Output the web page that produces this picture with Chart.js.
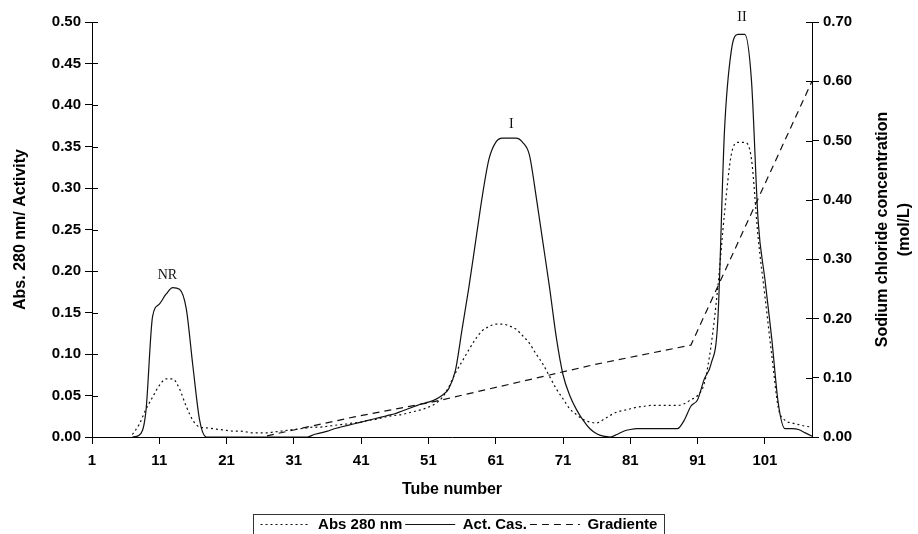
<!DOCTYPE html>
<html>
<head>
<meta charset="utf-8">
<script src="https://cdn.jsdelivr.net/npm/chart.js@4.4.0/dist/chart.umd.min.js"></script>
<style>
  html, body { margin: 0; padding: 0; background: #fff; }
</style>
</head>
<body>
<canvas id="myChart" width="918" height="534"></canvas>
<script>
// tube numbers for the two measured series (tubes 7..108)
const tubes = Array.from({ length: 102 }, (_, i) => i + 7);

const absValues = [
  0.003, 0.015, 0.033, 0.048, 0.062, 0.070, 0.070, 0.058, 0.037, 0.020,   // 7-16
  0.012, 0.011, 0.010, 0.009, 0.008, 0.007, 0.007, 0.006, 0.005, 0.005,   // 17-26
  0.005, 0.006, 0.007, 0.008, 0.009, 0.010, 0.011, 0.012, 0.012, 0.013,   // 27-36
  0.014, 0.015, 0.016, 0.017, 0.018, 0.020, 0.021, 0.023, 0.025, 0.026,   // 37-46
  0.027, 0.029, 0.031, 0.033, 0.036, 0.040, 0.047, 0.060, 0.077, 0.091,   // 47-56
  0.105, 0.118, 0.128, 0.133, 0.136, 0.136, 0.134, 0.130, 0.122, 0.113,   // 57-66
  0.100, 0.088, 0.073, 0.058, 0.046, 0.034, 0.027, 0.021, 0.018, 0.017,   // 67-76
  0.021, 0.026, 0.030, 0.032, 0.034, 0.036, 0.037, 0.038, 0.038, 0.038,   // 77-86
  0.038, 0.038, 0.040, 0.045, 0.050, 0.065, 0.110, 0.180, 0.270, 0.340,   // 87-96
  0.355, 0.355, 0.335, 0.240, 0.170, 0.100, 0.035, 0.020, 0.017, 0.015,   // 97-106
  0.013, 0.012                                                            // 107-108
];

const actValues = [
  0.000, 0.002, 0.030, 0.145, 0.160, 0.172, 0.180, 0.178, 0.155, 0.085,   // 7-16
  0.020, 0.000, 0.000, 0.000, 0.000, 0.000, 0.000, 0.000, 0.000, 0.000,   // 17-26
  0.000, 0.000, 0.000, 0.000, 0.000, 0.000, 0.000, 0.003, 0.005, 0.007,   // 27-36
  0.010, 0.012, 0.014, 0.016, 0.018, 0.020, 0.022, 0.024, 0.026, 0.028,   // 37-46
  0.031, 0.034, 0.037, 0.040, 0.042, 0.045, 0.050, 0.058, 0.080, 0.130,   // 47-56
  0.180, 0.235, 0.290, 0.335, 0.355, 0.360, 0.360, 0.360, 0.355, 0.340,   // 57-66
  0.290, 0.235, 0.180, 0.120, 0.075, 0.050, 0.033, 0.020, 0.010, 0.004,   // 67-76
  0.001, 0.000, 0.003, 0.007, 0.009, 0.010, 0.010, 0.010, 0.010, 0.010,   // 77-86
  0.010, 0.010, 0.020, 0.037, 0.045, 0.070, 0.088, 0.140, 0.370, 0.465,   // 87-96
  0.485, 0.485, 0.430, 0.260, 0.190, 0.120, 0.040, 0.010, 0.010, 0.009,   // 97-106
  0.005, 0.001                                                            // 107-108
];

// NaCl gradient (right axis), straight segments
const gradTubes  = [27, 40, 52, 76, 90, 108];
const gradValues = [0.002, 0.034, 0.060, 0.123, 0.155, 0.600];

const xTickValues = [1, 11, 21, 31, 41, 51, 61, 71, 81, 91, 101];

const peakLabels = ['NR', 'I', 'II'];
const peakTubes  = [12.2, 63.3, 97.6];
const peakLevels = [0.195, 0.377, 0.506];

const seriesNames = ['Abs 280 nm', 'Act. Cas.', 'Gradiente'];

const SANS = '"Liberation Sans", Arial, sans-serif';
const SERIF = '"Liberation Serif", "Times New Roman", serif';

const toPoints = (xs, ys) => xs.map((x, i) => ({ x: x, y: ys[i] }));

// small extras: legend frame, inner tick halves, peak names, right title
const extras = {
  id: 'extras',
  afterDatasetsDraw(chart) {
    const ctx = chart.ctx;
    const xs = chart.scales.x, ys = chart.scales.y;
    ctx.save();
    ctx.fillStyle = '#111';
    ctx.font = '14px ' + SERIF;
    ctx.textAlign = 'center';
    ctx.textBaseline = 'middle';
    peakLabels.forEach((t, i) => {
      ctx.fillText(t, xs.getPixelForValue(peakTubes[i]), ys.getPixelForValue(peakLevels[i]));
    });
    ctx.restore();
  },
  afterDraw(chart) {
    const ctx = chart.ctx;
    const ys = chart.scales.y, y2 = chart.scales.y2;
    ctx.save();
    ctx.strokeStyle = '#000';
    ctx.lineWidth = 1;
    ctx.beginPath();
    ys.ticks.forEach(t => {
      const p = Math.round(ys.getPixelForValue(t.value)) + 0.5;
      ctx.moveTo(ys.right, p); ctx.lineTo(ys.right + 6, p);
    });
    y2.ticks.forEach(t => {
      const p = Math.round(y2.getPixelForValue(t.value)) + 0.5;
      ctx.moveTo(y2.left, p); ctx.lineTo(y2.left - 6, p);
    });
    ctx.stroke();

    // right axis title, reading bottom to top
    ctx.fillStyle = '#000';
    ctx.font = 'bold 16px ' + SANS;
    ctx.textAlign = 'center';
    ctx.textBaseline = 'middle';
    const cy = (chart.chartArea.top + chart.chartArea.bottom) / 2;
    [['Sodium chloride concentration', y2.right - 35], ['(mol/L)', y2.right - 13]].forEach(([txt, x]) => {
      ctx.save();
      ctx.translate(x, cy);
      ctx.rotate(-Math.PI / 2);
      ctx.fillText(txt, 0, 0);
      ctx.restore();
    });

    // frame around the legend
    const lg = chart.legend;
    if (lg && lg.legendHitBoxes && lg.legendHitBoxes.length) {
      const hb = lg.legendHitBoxes;
      const l = Math.min(...hb.map(b => b.left)) - 8;
      const r = Math.max(...hb.map(b => b.left + b.width)) + 6;
      ctx.strokeStyle = '#333';
      ctx.strokeRect(Math.round(l) + 0.5, Math.round(lg.top) + 0.5, Math.round(r - l), 40);
    }
    ctx.restore();
  }
};

const data = {
  datasets: [{
    label: seriesNames[0],
    data: toPoints(tubes, absValues),
    yAxisID: 'y',
    borderColor: '#111',
    borderWidth: 1.2,
    borderDash: [2, 3],
    cubicInterpolationMode: 'monotone',
    pointRadius: 0,
    fill: false
  }, {
    label: seriesNames[1],
    data: toPoints(tubes, actValues),
    yAxisID: 'y',
    borderColor: '#111',
    borderWidth: 1.2,
    cubicInterpolationMode: 'monotone',
    pointRadius: 0,
    fill: false
  }, {
    label: seriesNames[2],
    data: toPoints(gradTubes, gradValues),
    yAxisID: 'y2',
    borderColor: '#111',
    borderWidth: 1.2,
    borderDash: [7, 5],
    tension: 0,
    pointRadius: 0,
    fill: false
  }]
};

const config = {
  type: 'line',
  data,
  plugins: [extras],
  options: {
    responsive: false,
    animation: false,
    layout: { padding: { top: 22, left: 0, right: 0, bottom: -8 } },
    scales: {
      x: {
        type: 'linear',
        min: 1,
        max: 108,
        afterBuildTicks: s => { s.ticks = xTickValues.map(v => ({ value: v })); },
        afterFit: s => { s.height = 77; },
        border: { color: '#000', width: 1 },
        grid: { drawOnChartArea: false, tickLength: 7, color: '#000' },
        ticks: {
          color: '#000',
          padding: 8,
          maxRotation: 0,
          font: { family: SANS, size: 15, weight: 'bold' }
        },
        title: {
          display: true,
          text: 'Tube number',
          color: '#000',
          padding: { top: 4, bottom: 15 },
          font: { family: SANS, size: 16, weight: 'bold' }
        }
      },
      y: {
        position: 'left',
        min: 0,
        max: 0.5,
        afterFit: s => { s.width = 92; },
        border: { color: '#000', width: 1 },
        grid: { drawOnChartArea: false, tickLength: 7, color: '#000' },
        ticks: {
          stepSize: 0.05,
          color: '#000',
          padding: 4,
          callback: v => v.toFixed(2),
          font: { family: SANS, size: 15, weight: 'bold' }
        },
        title: {
          display: true,
          text: 'Abs. 280 nm/ Activity',
          color: '#000',
          padding: { top: 11, bottom: 0 },
          font: { family: SANS, size: 16, weight: 'bold' }
        }
      },
      y2: {
        position: 'right',
        min: 0,
        max: 0.7,
        afterFit: s => { s.width = 106; },
        border: { color: '#000', width: 1 },
        grid: { drawOnChartArea: false, tickLength: 7, color: '#000' },
        ticks: {
          stepSize: 0.1,
          color: '#000',
          padding: 4,
          callback: v => v.toFixed(2),
          font: { family: SANS, size: 15, weight: 'bold' }
        }
      }
    },
    plugins: {
      tooltip: { enabled: false },
      legend: {
        position: 'bottom',
        labels: {
          usePointStyle: true,
          pointStyle: 'line',
          pointStyleWidth: 50,
          boxHeight: 15,
          padding: 3,
          color: '#000',
          font: { family: SANS, size: 15, weight: 'bold' },
          generateLabels: chart => {
            const items = Chart.defaults.plugins.legend.labels.generateLabels(chart);
            items.forEach(it => {
              it.lineDash = chart.data.datasets[it.datasetIndex].borderDash || [];
              it.lineWidth = 1;
              it.strokeStyle = '#111';
            });
            return items;
          }
        }
      }
    }
  }
};

const myChart = new Chart(document.getElementById('myChart'), config);
</script>
</body>
</html>
